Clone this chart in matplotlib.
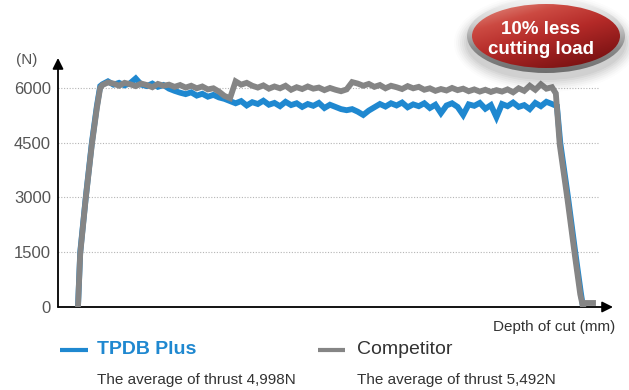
import numpy as np
import matplotlib.pyplot as plt
from matplotlib.patches import Ellipse
from matplotlib.lines import Line2D
from matplotlib.colors import LinearSegmentedColormap

plt.rcParams['font.family'] = ['Liberation Sans', 'DejaVu Sans']

# thrust readings (N) along the depth of cut (mm)
ramp_x = [3.6, 4.0, 5.0, 6.1, 7.0, 7.6]
ramp_tpdb = [0, 1500, 3000, 4500, 5500, 6050]
ramp_comp = [0, 1450, 2980, 4450, 5450, 6000]

plateau_x = list(range(8, 90))
plateau_tpdb = [
    6100, 6180, 6090, 6140, 6070, 6130, 6260, 6090, 6050, 6120,
    6030, 6080, 5980, 5920, 5870, 5830, 5880, 5790, 5840, 5760,
    5810, 5740, 5700, 5640, 5580, 5640, 5520, 5610, 5560, 5650,
    5540, 5590, 5500, 5620, 5530, 5580, 5480, 5560, 5510, 5590,
    5450, 5540, 5480, 5420, 5390, 5420, 5350, 5260, 5380, 5470,
    5560, 5490, 5580, 5520, 5600, 5470, 5550, 5500, 5580, 5450,
    5540, 5310, 5520, 5580, 5480, 5260, 5550, 5510, 5590, 5430,
    5530, 5200, 5560, 5500, 5600, 5480, 5530, 5420, 5590, 5500,
    5620, 5560,
]
plateau_comp = [
    6080, 6150, 6120, 6060, 6140, 6100, 6050, 6120, 6080, 6020,
    6110, 6060, 6090, 6030, 6080, 6010, 6060, 5990, 6040, 5960,
    5990, 5900, 5780, 5720, 6180, 6090, 6140, 6060, 6010, 6070,
    5980, 6040, 5990, 6060, 5950, 6020, 5970, 6040, 5980, 6010,
    5940, 6000, 5950, 5910, 5960, 6160, 6120, 6060, 6110, 6030,
    6080, 5990, 6060, 6020, 5970, 6050, 5990, 6030, 5950, 5990,
    5920, 5970, 5930, 6000, 5940, 5980, 5910, 5960, 5900, 5950,
    5890, 5940, 5900, 5960, 5880, 5990, 5920, 6060, 5950, 6100,
    5980, 6020,
]

drop_x_tpdb = [89.9, 90.5, 91.9, 93.2, 94.2, 94.6]
drop_tpdb = [5500, 4500, 3000, 1500, 400, 0]
drop_x_comp = [89.7, 90.4, 91.8, 93.1, 94.1, 94.6, 94.8, 96.4]
drop_comp = [5850, 4450, 2950, 1450, 350, 0, 110, 110]

yticks = [0, 1500, 3000, 4500, 6000]
names = ['TPDB Plus', 'Competitor']
averages = ['The average of thrust 4,998N', 'The average of thrust 5,492N']

blue = '#1f88d0'
grey = '#858585'

x_tpdb = ramp_x + plateau_x + drop_x_tpdb
y_tpdb = ramp_tpdb + plateau_tpdb + drop_tpdb
x_comp = ramp_x + plateau_x + drop_x_comp
y_comp = ramp_comp + plateau_comp + drop_comp

W, H = 629, 390
fig = plt.figure(figsize=(W / 100, H / 100), dpi=100)
ax = fig.add_axes([58 / W, 1 - 307 / H, (613 - 58) / W, (307 - 58) / H])
ax.set_xlim(0, 100)
ax.set_ylim(0, 6820)

for v in yticks[1:]:
    ax.axhline(v, xmin=0, xmax=0.975, color='#b5b5b5', lw=0.8,
               ls=(0, (1, 1.5)), zorder=1)

ax.plot(x_tpdb, y_tpdb, color=blue, lw=4.2, solid_joinstyle='miter', zorder=3)
ax.plot(x_comp, y_comp, color=grey, lw=4.2, solid_joinstyle='miter', zorder=4)

ax.set_yticks(yticks)
ax.set_yticklabels([str(v) for v in yticks], fontsize=12, color='#555555')
ax.tick_params(axis='y', length=0, pad=5)
ax.set_xticks([])
for s in ax.spines.values():
    s.set_visible(False)

# axis arrows
arrow = dict(arrowstyle='-|>', color='black', lw=1.3, mutation_scale=16,
             shrinkA=0, shrinkB=0)
ax.annotate('', xy=(0, 1.0), xytext=(0, 0), xycoords='axes fraction',
            arrowprops=arrow, annotation_clip=False)
ax.annotate('', xy=(1.0, 0), xytext=(0, 0), xycoords='axes fraction',
            arrowprops=arrow, annotation_clip=False)

fig.text(27 / W, 1 - 60 / H, '(N)', fontsize=11, color='#555555',
         ha='center', va='center')
fig.text(615 / W, 1 - 327 / H, 'Depth of cut (mm)', fontsize=11,
         color='#333333', ha='right', va='center')

# legend
fig.add_artist(Line2D([60 / W, 88 / W], [1 - 350 / H] * 2, color=blue,
                      lw=3, solid_capstyle='butt'))
fig.add_artist(Line2D([318 / W, 345 / W], [1 - 350 / H] * 2, color=grey,
                      lw=3, solid_capstyle='butt'))
fig.text(97 / W, 1 - 350 / H, names[0], fontsize=14, fontweight='bold',
         color=blue, ha='left', va='center')
fig.text(357 / W, 1 - 350 / H, names[1], fontsize=14, color='#333333',
         ha='left', va='center')
fig.text(97 / W, 1 - 380 / H, averages[0], fontsize=11, color='#333333',
         ha='left', va='center')
fig.text(357 / W, 1 - 380 / H, averages[1], fontsize=11, color='#333333',
         ha='left', va='center')

# red badge, drawn in pixel units
bx = fig.add_axes([440 / W, 1 - 95 / H, 189 / W, 95 / H])
bx.axis('off')
cx, cy = 546, 36

# soft drop shadow
for i, a in enumerate(np.linspace(0.06, 0.015, 7)):
    bx.add_patch(Ellipse((cx, cy + 7), 160 + i * 4, 74 + i * 4,
                         color='#444444', alpha=a, lw=0))

yy, xx = np.mgrid[0:1:120j, 0:1:200j]

rim = Ellipse((cx, cy), 158, 74, facecolor='none', lw=0)
bx.add_patch(rim)
rim_cmap = LinearSegmentedColormap.from_list(
    'rim', ['#f4f4f4', '#d0d0d0', '#8a8a8a', '#6e6e6e'])
im = bx.imshow(yy, cmap=rim_cmap, extent=[cx - 79, cx + 79, cy + 37, cy - 37],
               aspect='auto', zorder=2)
im.set_clip_path(rim)

red = Ellipse((cx, cy), 148, 64, facecolor='none', lw=0)
bx.add_patch(red)
red_cmap = LinearSegmentedColormap.from_list(
    'red', ['#e4968a', '#cc4a42', '#b42a28', '#8e1a1a', '#6a0c0c'])
im2 = bx.imshow(0.6 * yy + 0.4 * xx, cmap=red_cmap,
                extent=[cx - 74, cx + 74, cy + 32, cy - 32],
                aspect='auto', zorder=3)
im2.set_clip_path(red)
bx.set_xlim(440, 629)
bx.set_ylim(95, 0)

bx.text(541, 30, '10% less', fontsize=13.5, fontweight='bold', color='white',
        ha='center', va='center', zorder=5)
bx.text(541, 49, 'cutting load', fontsize=13.5, fontweight='bold',
        color='white', ha='center', va='center', zorder=5)

fig.savefig('out.png', dpi=100)
